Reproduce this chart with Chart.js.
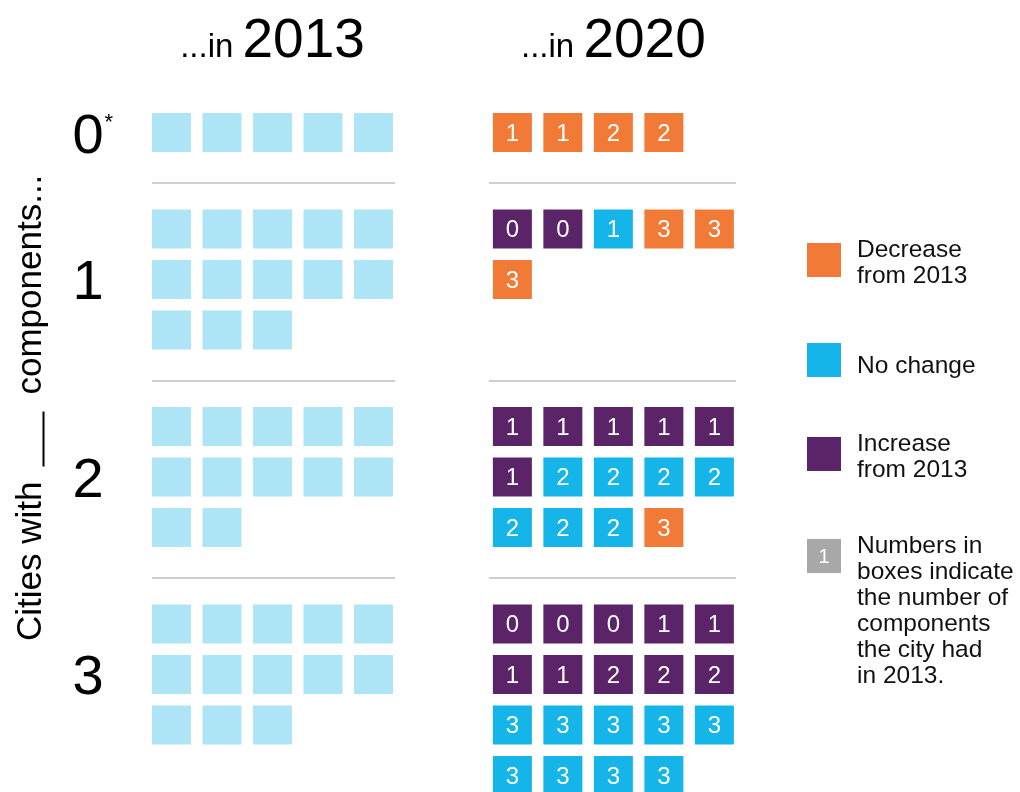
<!DOCTYPE html>
<html>
<head>
<meta charset="utf-8">
<script src="https://cdn.jsdelivr.net/npm/chart.js@4.4.1/dist/chart.umd.min.js"></script>
<style>
  html, body { margin: 0; padding: 0; background: #fff; }
  #wrap { width: 1020px; height: 792px; }
</style>
</head>
<body>
<div id="wrap"><canvas id="waffle" width="1020" height="792"></canvas></div>
<script>
// number of components a city had -> one group per row
const categories = [0, 1, 2, 3];
const labelNotes = ["*", "", "", ""];
const years = ["2013", "2020"];

// cities in each group in 2013
const cities2013 = [5, 13, 12, 13];

// cities in each group in 2020, each value = components that city had in 2013
const now0 = [1, 1, 2, 2];
const now1 = [0, 0, 1, 3, 3, 3];
const now2 = [1, 1, 1, 1, 1, 1, 2, 2, 2, 2, 2, 2, 2, 3];
const now3 = [0, 0, 0, 1, 1, 1, 1, 2, 2, 2, 3, 3, 3, 3, 3, 3, 3, 3, 3];

const legendLabels = [
  ["Decrease", "from 2013"],
  ["No change"],
  ["Increase", "from 2013"],
  ["Numbers in", "boxes indicate", "the number of", "components", "the city had", "in 2013."],
];

const COLORS = {
  old: "#ade4f6",
  down: "#f17a36",
  same: "#15b5e9",
  up: "#5b2468",
  key: "#a8a8a8",
  rule: "#cfcfcf",
};
const FONT = '"Liberation Sans", Arial, Helvetica, sans-serif';

const PER_ROW = 5;
const GAP = 0.91;          // space between groups, in rows
const RIGHT_OFFSET = 6.75; // where the 2020 panel starts, in columns
const HALF = 19.5;         // half a box, px

const nowGroups = [now0, now1, now2, now3];

// first row of each group
const starts = [];
const rowsIn = [];
let acc = 0;
categories.forEach((c, i) => {
  starts.push(acc);
  const rows = Math.max(
    Math.ceil(cities2013[i] / PER_ROW),
    Math.ceil(nowGroups[i].length / PER_ROW)
  );
  rowsIn.push(rows);
  acc += rows + GAP;
});

const separators = [];
for (let i = 0; i < categories.length - 1; i++) {
  separators.push((starts[i] + rowsIn[i] - 1 + starts[i + 1]) / 2 + 0.05);
}

const oldPts = [], downPts = [], samePts = [], upPts = [];
categories.forEach((c, i) => {
  for (let k = 0; k < cities2013[i]; k++) {
    oldPts.push({ x: k % PER_ROW, y: starts[i] + Math.floor(k / PER_ROW) });
  }
  nowGroups[i].forEach((v, k) => {
    const p = { x: RIGHT_OFFSET + (k % PER_ROW), y: starts[i] + Math.floor(k / PER_ROW), v: v };
    if (v > c) downPts.push(p);
    else if (v === c) samePts.push(p);
    else upPts.push(p);
  });
});

const boxDataset = (label, data, color) => ({
  label: label,
  data: data,
  pointStyle: "rect",
  pointRadius: HALF * 2 / Math.SQRT2,
  pointHoverRadius: HALF * 2 / Math.SQRT2,
  backgroundColor: color,
  borderWidth: 0,
});

const decor = {
  id: "decor",
  beforeDatasetsDraw(chart) {
    const { ctx, scales: { x, y } } = chart;
    ctx.save();
    ctx.strokeStyle = COLORS.rule;
    ctx.lineWidth = 2;
    separators.forEach((s) => {
      const py = Math.round(y.getPixelForValue(s));
      [0, RIGHT_OFFSET].forEach((off) => {
        ctx.beginPath();
        ctx.moveTo(x.getPixelForValue(off) - HALF - (off ? 4 : 0), py);
        ctx.lineTo(x.getPixelForValue(off + PER_ROW - 1) + HALF + 2, py);
        ctx.stroke();
      });
    });
    ctx.restore();
  },
  afterDatasetsDraw(chart) {
    const { ctx } = chart;
    ctx.save();
    ctx.fillStyle = "#fff";
    ctx.font = "24px " + FONT;
    ctx.textAlign = "center";
    ctx.textBaseline = "alphabetic";
    [1, 2, 3].forEach((d) => {
      const meta = chart.getDatasetMeta(d);
      const data = chart.data.datasets[d].data;
      meta.data.forEach((pt, j) => {
        ctx.fillText(String(data[j].v), pt.x, pt.y + 8.5);
      });
    });
    ctx.restore();
  },
  afterDraw(chart) {
    const { ctx, scales: { x, y } } = chart;
    ctx.save();
    ctx.fillStyle = "#000";
    ctx.textBaseline = "alphabetic";
    ctx.textAlign = "left";

    // column titles
    years.forEach((yr, i) => {
      const cx = x.getPixelForValue(i * RIGHT_OFFSET + (PER_ROW - 1) / 2);
      ctx.font = "33px " + FONT;
      const pre = "...in ";
      const w1 = ctx.measureText(pre).width;
      ctx.font = "55px " + FONT;
      const w2 = ctx.measureText(yr).width;
      let sx = cx - (w1 + w2) / 2;
      ctx.font = "33px " + FONT;
      ctx.fillText(pre, sx, 57);
      ctx.font = "55px " + FONT;
      ctx.fillText(yr, sx + w1, 57);
    });

    // group labels
    categories.forEach((c, i) => {
      const mid = starts[i] + (Math.ceil(cities2013[i] / PER_ROW) - 1) / 2;
      const cy = y.getPixelForValue(mid);
      ctx.font = "56px " + FONT;
      ctx.textAlign = "center";
      const txt = String(c);
      ctx.fillText(txt, 88, cy + 20);
      if (labelNotes[i]) {
        const w = ctx.measureText(txt).width;
        ctx.font = "22px " + FONT;
        ctx.textAlign = "left";
        ctx.fillText(labelNotes[i], 88 + w / 2 + 1, cy - 4);
      }
    });

    // rotated axis label
    ctx.save();
    ctx.translate(41, 641);
    ctx.rotate(-Math.PI / 2);
    ctx.font = "35px " + FONT;
    ctx.textAlign = "left";
    const a = "Cities with";
    const wa = ctx.measureText(a).width;
    ctx.fillText(a, 0, 0);
    ctx.fillRect(wa + 15, 1.5, 55, 2);
    ctx.fillText("components...", wa + 15 + 55 + 17, 0);
    ctx.restore();

    // legend
    const keyColors = [COLORS.down, COLORS.same, COLORS.up, COLORS.key];
    const keyTops = [243, 343, 437, 539];
    legendLabels.forEach((lines, i) => {
      const top = keyTops[i];
      ctx.fillStyle = keyColors[i];
      ctx.fillRect(807, top, 34, 34);
      if (i === 3) {
        ctx.fillStyle = "#fff";
        ctx.font = "20px " + FONT;
        ctx.textAlign = "center";
        ctx.fillText("1", 824, top + 24);
      }
      ctx.fillStyle = "#111";
      ctx.font = "24.5px " + FONT;
      ctx.textAlign = "left";
      const first = lines.length === 1 ? top + 30 : top + 14;
      lines.forEach((ln, k) => ctx.fillText(ln, 857, first + k * 26));
    });
    ctx.restore();
  },
};

new Chart(document.getElementById("waffle"), {
  type: "scatter",
  data: {
    datasets: [
      boxDataset("2013", oldPts, COLORS.old),
      boxDataset("Decrease from 2013", downPts, COLORS.down),
      boxDataset("No change", samePts, COLORS.same),
      boxDataset("Increase from 2013", upPts, COLORS.up),
    ],
  },
  options: {
    responsive: false,
    devicePixelRatio: 1,
    animation: false,
    events: [],
    layout: { padding: 0, autoPadding: false },
    plugins: { legend: { display: false }, tooltip: { enabled: false } },
    scales: {
      x: { type: "linear", min: -3.396, max: 16.802, display: false },
      y: { type: "linear", reverse: true, min: -2.624, max: 13.059, display: false },
    },
  },
  plugins: [decor],
});
</script>
</body>
</html>
